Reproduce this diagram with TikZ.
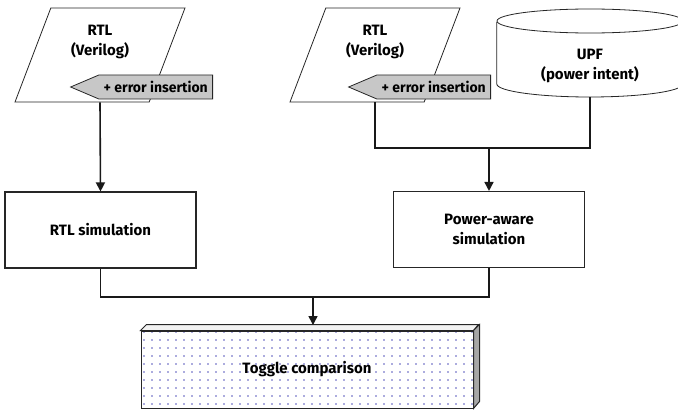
\documentclass[tikz,border=0pt]{standalone}
\usepackage{fontspec}
\setmainfont{Fira Sans}
\usetikzlibrary{arrows.meta, positioning, calc, shapes.geometric, shapes.symbols, patterns.meta}

\begin{document}
\begin{tikzpicture}[x=1pt,y=-1pt,>={Triangle[length=9pt,width=9pt]},font=\bfseries\fontsize{15}{20}\selectfont]
        \tikzstyle{proc}=[rectangle,draw=black!85,line width=1.1pt,minimum width=191pt,minimum height=76pt,align=center]
        \tikzstyle{datain}=[trapezium,trapezium left angle=70,trapezium right angle=110,trapezium stretches=true,draw=black!85,line width=0.8pt,minimum width=170pt,minimum height=94pt]
        \tikzstyle{errtag}=[signal,signal to=west,signal pointer angle=46,draw=black!85,fill=black!22,line width=0.8pt,minimum width=142pt,minimum height=24pt,inner sep=1pt,font=\bfseries\fontsize{14}{16}\selectfont]
        \tikzstyle{link}=[draw=black!90,line width=1.6pt]
        \useasboundingbox (0,0) rectangle (678,412);
        % inputs
        \node[datain] (rtlA) at (100,55) {};
        \node[align=center] (rtlAtxt) at (100,42) {RTL\\(Verilog)};
        \node[errtag,anchor=east] (errA) at (213,87) {+ error insertion};
        \node[datain] (rtlB) at (375,55) {};
        \node[align=center] (rtlBtxt) at (375,42) {RTL\\(Verilog)};
        \node[errtag,anchor=east] (errB) at (491,87) {+ error insertion};
        \node[minimum width=186pt,minimum height=88pt] (upf) at (590,53) {};
        \draw[draw=black!85,line width=0.8pt,fill=white] (upf.west |- 0,22) -- (upf.west |- 0,84)
              arc[start angle=180,end angle=0,x radius=93,y radius=13] -- (upf.east |- 0,22);
        \draw[draw=black!85,line width=0.8pt,fill=white] (upf.center |- 0,21) ellipse[x radius=93,y radius=12];
        \node[align=center] (upftxt) at (590,66) {UPF\\(power intent)};
        % simulations
        \node[proc] (simA) at (100.5,230) {RTL simulation};
        \node[proc] (simB) at (489,229.5) {Power-aware\\simulation};
        % result
        \node[draw=black!85,line width=1pt,minimum width=332pt,minimum height=77pt,preaction={fill=white},
              pattern={Dots[distance=8pt,radius=0.8pt]},pattern color=blue!60!black!65] (toggle) at (307,369.5) {};
        \node at (toggle.center) {Toggle comparison};
        \draw[draw=black!85,line width=1pt,fill=black!5] (toggle.north west) -- ++(6,-6) -- ++(332,0) -- (toggle.north east) -- cycle;
        \draw[draw=black!85,line width=1pt,fill=black!35] (toggle.north east) -- ++(6,-6) -- ++(0,77) -- (toggle.south east) -- cycle;
        \coordinate (mergeB) at (489,148);
        \coordinate (mergeC) at (313,297);
        \coordinate (toggleTop) at (313,325);
        \draw[link,->] (rtlA.south -| rtlA.center) -- (simA.north);
        \draw[link] (rtlB.south -| rtlB.center) |- (mergeB) -| (upf.south);
        \draw[link,->] (mergeB) -- (simB.north);
        \draw[link] (simA.south) |- (mergeC) -| (simB.south);
        \draw[link,->] (mergeC) -- (toggleTop);
    \end{tikzpicture}
\end{document}
